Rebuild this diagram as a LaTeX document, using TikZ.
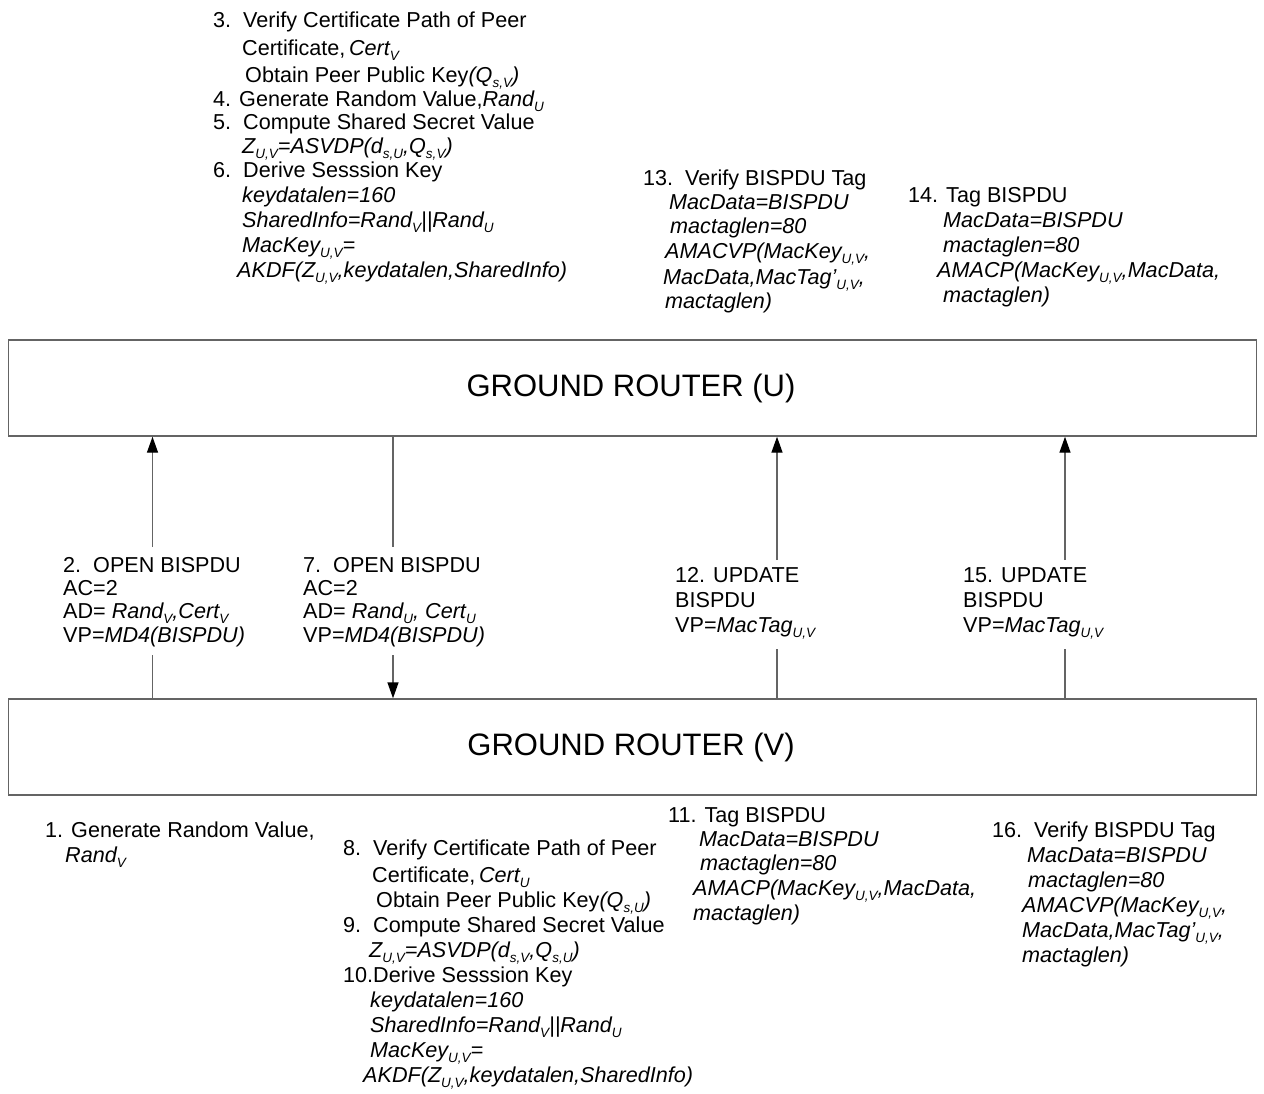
\documentclass[tikz,border=0pt]{standalone}
\usepackage{fontspec}
\setmainfont{Liberation Sans}
\usetikzlibrary{arrows.meta}
\newcommand\sbs[1]{\raisebox{-0.25em}{\fontsize{13.5}{14}\selectfont #1}}
\definecolor{lngray}{RGB}{100,100,100}
\tikzset{
  txt/.style={anchor=base west, inner sep=0pt, font=\fontsize{21.6}{24}\selectfont},
  big/.style={anchor=center, inner sep=0pt, font=\fontsize{31}{34}\selectfont},
  router/.style={draw=lngray, line width=1.4pt, minimum width=1248pt, minimum height=96pt, inner sep=0pt},
  ln/.style={draw=lngray, line width=1.4pt},
  arr/.style={-{Triangle[length=16pt,width=11pt,color=black]}},
}
\begin{document}
\begin{tikzpicture}[x=1pt,y=-1pt]
\useasboundingbox (0,0) rectangle (1264,1093);
% routers
\node[router] (U) at (632.5,388) {};
\node[big] (Ut) at (631,388) {GROUND ROUTER (U)};
\node[router] (V) at (632.5,747) {};
\node[big] (Vt) at (631,747) {GROUND ROUTER (V)};

% block 3-6
\node[txt] (a1) at (213,27) {3.\ \ Verify Certificate Path of Peer};
\node[txt] (a2) at (242,55) {Certificate,\,\textit{Cert\sbs{V}}};
\node[txt] (a3) at (245,82) {Obtain Peer Public Key\textit{(Q\sbs{s,V})}};
\node[txt] (a4) at (213,106) {4. Generate Random Value,\textit{Rand\sbs{U}}};
\node[txt] (a5) at (213,129) {5.\ \ Compute Shared Secret Value};
\node[txt] (a6) at (242,153) {\textit{Z\sbs{U,V}=ASVDP(d\sbs{s,U},Q\sbs{s,V})}};
\node[txt] (a7) at (213,177) {6.\ \ Derive Sesssion Key};
\node[txt] (a8) at (242,202) {\textit{keydatalen=160}};
\node[txt] (a9) at (242,227) {\textit{SharedInfo=Rand\sbs{V}||Rand\sbs{U}}};
\node[txt] (a10) at (242,252) {\textit{MacKey\sbs{U,V}=}};
\node[txt] (a11) at (237,277) {\textit{AKDF(Z\sbs{U,V},keydatalen,SharedInfo)}};

% block 13
\node[txt] (b1) at (643,185) {13.\ \ Verify BISPDU Tag};
\node[txt] (b2) at (669,209) {\textit{MacData=BISPDU}};
\node[txt] (b3) at (670,233) {\textit{mactaglen=80}};
\node[txt] (b4) at (665,258) {\textit{AMACVP(MacKey\sbs{U,V},}};
\node[txt] (b5) at (663,284) {\textit{MacData,MacTag’\sbs{U,V},}};
\node[txt] (b6) at (665,308) {\textit{mactaglen)}};

% block 14
\node[txt] (c1) at (908,202) {14. Tag BISPDU};
\node[txt] (c2) at (943,227) {\textit{MacData=BISPDU}};
\node[txt] (c3) at (943,252) {\textit{mactaglen=80}};
\node[txt] (c4) at (937,277) {\textit{AMACP(MacKey\sbs{U,V},MacData,}};
\node[txt] (c5) at (943,302) {\textit{mactaglen)}};

% message 2
\node[txt] (d1) at (63,572) {2.\ \ OPEN BISPDU};
\node[txt] (d2) at (63,595) {AC=2};
\node[txt] (d3) at (63,618) {AD= \textit{Rand\sbs{V},Cert\sbs{V}}};
\node[txt] (d4) at (63,642) {VP=\textit{MD4(BISPDU)}};

% message 7
\node[txt] (e1) at (303,572) {7.\ \ OPEN BISPDU};
\node[txt] (e2) at (303,595) {AC=2};
\node[txt] (e3) at (303,618) {AD= \textit{Rand\sbs{U}, Cert\sbs{U}}};
\node[txt] (e4) at (303,642) {VP=\textit{MD4(BISPDU)}};

% message 12
\node[txt] (f1) at (675,582) {12. UPDATE};
\node[txt] (f2) at (675,607) {BISPDU};
\node[txt] (f3) at (675,632) {VP=\textit{MacTag\sbs{U,V}}};

% message 15
\node[txt] (g1) at (963,582) {15. UPDATE};
\node[txt] (g2) at (963,607) {BISPDU};
\node[txt] (g3) at (963,632) {VP=\textit{MacTag\sbs{U,V}}};

% block 1
\node[txt] (h1) at (45,837) {1. Generate Random Value,};
\node[txt] (h2) at (65,862) {\textit{Rand\sbs{V}}};

% block 8-10
\node[txt] (i1) at (343,855) {8.\ \ Verify Certificate Path of Peer};
\node[txt] (i2) at (372,882) {Certificate,\,\textit{Cert\sbs{U}}};
\node[txt] (i3) at (376,907) {Obtain Peer Public Key\textit{(Q\sbs{s,U})}};
\node[txt] (i4) at (343,932) {9.\ \ Compute Shared Secret Value};
\node[txt] (i5) at (369,957) {\textit{Z\sbs{U,V}=ASVDP(d\sbs{s,V},Q\sbs{s,U})}};
\node[txt] (i6) at (343,982) {10.Derive Sesssion Key};
\node[txt] (i7) at (370,1007) {\textit{keydatalen=160}};
\node[txt] (i8) at (370,1032) {\textit{SharedInfo=Rand\sbs{V}||Rand\sbs{U}}};
\node[txt] (i9) at (370,1057) {\textit{MacKey\sbs{U,V}=}};
\node[txt] (i10) at (363,1082) {\textit{AKDF(Z\sbs{U,V},keydatalen,SharedInfo)}};

% block 11
\node[txt] (j1) at (668,822) {11. Tag BISPDU};
\node[txt] (j2) at (699,846) {\textit{MacData=BISPDU}};
\node[txt] (j3) at (700,870) {\textit{mactaglen=80}};
\node[txt] (j4) at (693,895) {\textit{AMACP(MacKey\sbs{U,V},MacData,}};
\node[txt] (j5) at (693,920) {\textit{mactaglen)}};

% block 16
\node[txt] (k1) at (992,837) {16.\ \ Verify BISPDU Tag};
\node[txt] (k2) at (1027,862) {\textit{MacData=BISPDU}};
\node[txt] (k3) at (1028,887) {\textit{mactaglen=80}};
\node[txt] (k4) at (1022,912) {\textit{AMACVP(MacKey\sbs{U,V},}};
\node[txt] (k5) at (1022,937) {\textit{MacData,MacTag’\sbs{U,V},}};
\node[txt] (k6) at (1022,962) {\textit{mactaglen)}};

% connector gap ends
\coordinate (m2hi) at (152.5,547);
\coordinate (m2lo) at (152.5,655);
\coordinate (m7hi) at (393,547);
\coordinate (m7lo) at (393,655);
\coordinate (m12hi) at (777,560);
\coordinate (m12lo) at (777,649);
\coordinate (m15hi) at (1065,560);
\coordinate (m15lo) at (1065,649);

% connectors
\draw[ln] (V.north -| m2lo) -- (m2lo);
\draw[ln,arr] (m2hi) -- (U.south -| m2hi);
\draw[ln] (U.south -| m7hi) -- (m7hi);
\draw[ln,arr] (m7lo) -- (V.north -| m7lo);
\draw[ln] (V.north -| m12lo) -- (m12lo);
\draw[ln,arr] (m12hi) -- (U.south -| m12hi);
\draw[ln] (V.north -| m15lo) -- (m15lo);
\draw[ln,arr] (m15hi) -- (U.south -| m15hi);
\end{tikzpicture}
\end{document}
